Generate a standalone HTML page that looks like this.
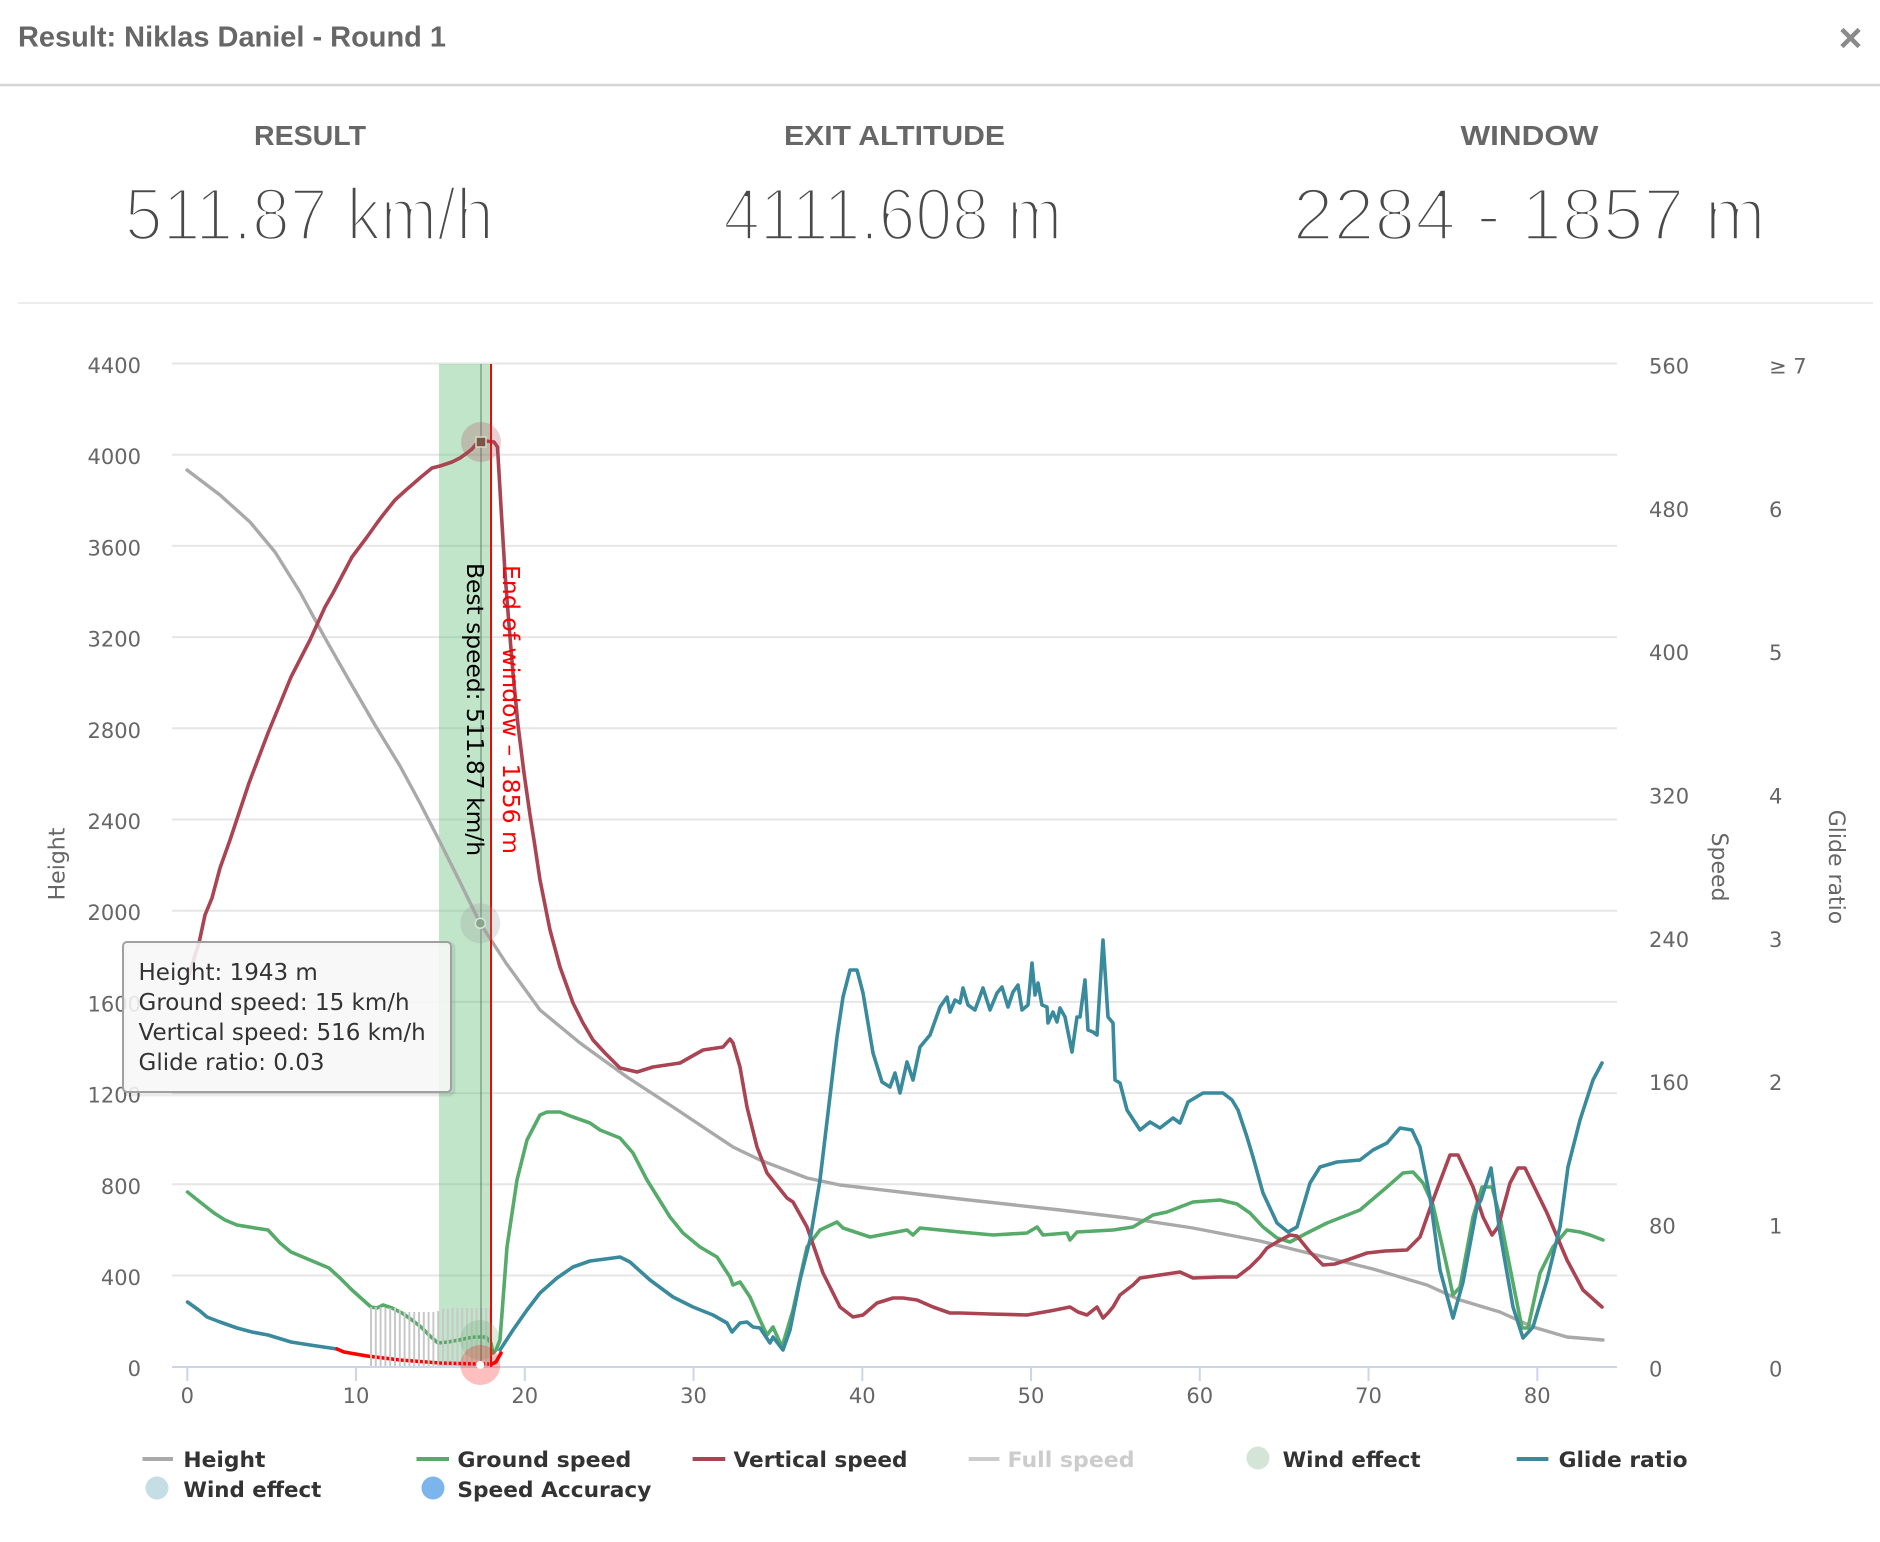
<!DOCTYPE html>
<html><head><meta charset="utf-8"><style>
html,body{margin:0;padding:0;background:#fff;}
svg{display:block;}
</style></head><body>
<svg width="1880" height="1542" viewBox="0 0 1880 1542" xmlns="http://www.w3.org/2000/svg">
<rect width="1880" height="1542" fill="#fff"/>
<!-- header -->
<text x="18" y="46.5" font-family="Liberation Sans, Arial, sans-serif" font-weight="bold" font-size="29" fill="#676767" textLength="428" lengthAdjust="spacingAndGlyphs">Result: Niklas Daniel - Round 1</text>
<g stroke="#8a8a8a" stroke-width="4.5" stroke-linecap="square"><line x1="1843.5" y1="31" x2="1857.5" y2="45"/><line x1="1857.5" y1="31" x2="1843.5" y2="45"/></g>
<line x1="0" y1="85" x2="1880" y2="85" stroke="#d6d6d6" stroke-width="2.5"/>
<g font-family="Liberation Sans, Arial, sans-serif" font-weight="bold" font-size="28" fill="#676767" text-anchor="middle">
<text x="310" y="145" textLength="112" lengthAdjust="spacingAndGlyphs">RESULT</text>
<text x="894.5" y="145" textLength="221" lengthAdjust="spacingAndGlyphs">EXIT ALTITUDE</text>
<text x="1529.5" y="145" textLength="138" lengthAdjust="spacingAndGlyphs">WINDOW</text>
</g>
<g font-family="Liberation Sans, Arial, sans-serif" font-size="74" fill="#4a4a4a" stroke="#fff" stroke-width="3.5" text-anchor="middle">
<text x="309.3" y="240" textLength="369" lengthAdjust="spacingAndGlyphs">511.87 km/h</text>
<text x="892.7" y="240" textLength="339" lengthAdjust="spacingAndGlyphs">4111.608 m</text>
<text x="1529.3" y="240" textLength="473" lengthAdjust="spacingAndGlyphs">2284 - 1857 m</text>
</g>
<line x1="18" y1="303" x2="1873" y2="303" stroke="#ececec" stroke-width="2"/>

<!-- gridlines -->
<g stroke="#e6e6e6" stroke-width="2">
<line x1="172" x2="1617" y1="1275.5" y2="1275.5"/>
<line x1="172" x2="1617" y1="1184.3" y2="1184.3"/>
<line x1="172" x2="1617" y1="1093.1" y2="1093.1"/>
<line x1="172" x2="1617" y1="1001.9" y2="1001.9"/>
<line x1="172" x2="1617" y1="910.7" y2="910.7"/>
<line x1="172" x2="1617" y1="819.5" y2="819.5"/>
<line x1="172" x2="1617" y1="728.3" y2="728.3"/>
<line x1="172" x2="1617" y1="637.1" y2="637.1"/>
<line x1="172" x2="1617" y1="545.9" y2="545.9"/>
<line x1="172" x2="1617" y1="454.7" y2="454.7"/>
<line x1="172" x2="1617" y1="363.5" y2="363.5"/>
</g>
<!-- band -->
<rect x="439" y="364" width="52" height="1003" fill="rgb(100,190,120)" fill-opacity="0.4"/>
<!-- x axis -->
<line x1="172" x2="1617" y1="1367" y2="1367" stroke="#ccd6eb" stroke-width="2"/>
<g stroke="#ccd6eb" stroke-width="2">
<line x1="187.3" x2="187.3" y1="1367" y2="1381"/><line x1="356" x2="356" y1="1367" y2="1381"/><line x1="524.8" x2="524.8" y1="1367" y2="1381"/><line x1="693.5" x2="693.5" y1="1367" y2="1381"/><line x1="862.3" x2="862.3" y1="1367" y2="1381"/><line x1="1031" x2="1031" y1="1367" y2="1381"/><line x1="1199.8" x2="1199.8" y1="1367" y2="1381"/><line x1="1368.5" x2="1368.5" y1="1367" y2="1381"/><line x1="1537.3" x2="1537.3" y1="1367" y2="1381"/>
</g>
<g font-family="DejaVu Sans, Verdana, sans-serif" font-size="21" fill="#666">
<g text-anchor="middle">
<text x="187.3" y="1403">0</text><text x="356" y="1403">10</text><text x="524.8" y="1403">20</text><text x="693.5" y="1403">30</text><text x="862.3" y="1403">40</text><text x="1031" y="1403">50</text><text x="1199.8" y="1403">60</text><text x="1368.5" y="1403">70</text><text x="1537.3" y="1403">80</text>
</g>
<g text-anchor="end">
<text x="141" y="1376">0</text><text x="141" y="1285">400</text><text x="141" y="1194">800</text><text x="141" y="1102.6">1200</text><text x="141" y="1011.4">1600</text><text x="141" y="920.2">2000</text><text x="141" y="829">2400</text><text x="141" y="737.8">2800</text><text x="141" y="646.6">3200</text><text x="141" y="555.4">3600</text><text x="141" y="464.2">4000</text><text x="141" y="373">4400</text>
</g>
<g>
<text x="1649" y="1376.7">0</text><text x="1649" y="1233.4">80</text><text x="1649" y="1090.1">160</text><text x="1649" y="946.8">240</text><text x="1649" y="803.5">320</text><text x="1649" y="660.2">400</text><text x="1649" y="516.8">480</text><text x="1649" y="373.5">560</text>
<text x="1769" y="1376.7">0</text><text x="1769" y="1233.4">1</text><text x="1769" y="1090.1">2</text><text x="1769" y="946.8">3</text><text x="1769" y="803.5">4</text><text x="1769" y="660.2">5</text><text x="1769" y="516.8">6</text><text x="1769" y="373.5">≥ 7</text>
</g>
<text transform="translate(64.5,864) rotate(-90)" text-anchor="middle" font-size="22">Height</text>
<text transform="translate(1712,867) rotate(90)" text-anchor="middle" font-size="22">Speed</text>
<text transform="translate(1829,867) rotate(90)" text-anchor="middle" font-size="22">Glide ratio</text>
</g>

<!-- series -->
<g fill="none" stroke-linejoin="round" stroke-linecap="round">
<polyline stroke="#a9a9a9" stroke-width="3.4" points="187,470 220,495 250,522 275,552 300,592 325,638 350,682 375,725 400,766 420,803 440,842 460,882 480,923 506,963 540,1010 580,1043 627,1077 673,1107 733,1147 760,1160 807,1178 840,1185 900,1192 960,1199 1060,1210 1127,1218 1193,1228 1260,1241 1300,1251 1373,1269 1427,1285 1460,1300 1500,1312 1533,1327 1567,1337 1603,1340"/>
<polyline stroke="#57ab6a" stroke-width="3.6" points="187.5,1192 200,1202 214,1213 225,1220 237,1225 255,1228 268,1230 280,1243 291,1252 310,1260 329,1268 340,1278 352,1290 362,1299 371,1307 377,1308 383,1305 392,1308 402,1313 412,1320 421,1327 430,1336 438,1343 448,1342 459,1340 468,1338 475,1337 486,1337 491,1343 493,1353 496,1350 500,1340 507,1247 517,1180 527,1140 540,1115 547,1112 560,1112 573,1117 590,1123 600,1130 620,1138 633,1153 647,1180 670,1217 683,1233 700,1247 717,1257 730,1277 733,1285 740,1282 750,1297 760,1320 767,1335 773,1327 782,1347 793,1310 807,1247 820,1230 837,1222 843,1228 870,1237 907,1230 913,1235 920,1228 960,1232 993,1235 1027,1233 1037,1227 1043,1235 1067,1233 1070,1240 1077,1232 1113,1230 1133,1227 1153,1215 1167,1212 1193,1202 1220,1200 1237,1204 1250,1213 1263,1227 1277,1238 1290,1242 1307,1233 1327,1223 1360,1210 1387,1187 1403,1173 1413,1172 1423,1183 1433,1205 1447,1267 1453,1295 1460,1287 1473,1217 1482,1187 1492,1187 1500,1217 1513,1283 1522,1328 1528,1328 1540,1273 1553,1247 1567,1230 1580,1232 1590,1235 1603,1240"/>
<polyline stroke="#aa4452" stroke-width="3.6" points="187.5,980 195,955 199,943 205,915 212,898 220,868 230,840 249,783 268,733 291,677 310,640 325,607 333,593 352,557 367,537 377,523 383,515 395,500 406,490 413,484 421,477 432,468 440,466 452,462 460,458 467,453 472,449 477,443 486,441 494,442 497.5,447 501,507 505,573 509,625 513,673 518,725 524,773 530,815 534,840 540,880 550,930 560,967 573,1003 583,1023 593,1040 605,1053 620,1068 637,1072 653,1067 680,1063 703,1050 723,1047 730,1039 733,1043 740,1067 747,1107 757,1147 767,1173 787,1198 793,1202 807,1227 823,1273 840,1307 853,1317 863,1315 877,1303 893,1298 903,1298 917,1300 933,1307 950,1313 960,1313 990,1314 1027,1315 1050,1311 1065,1308 1070,1307 1078,1312 1087,1315 1097,1307 1103,1318 1108,1313 1113,1307 1120,1295 1133,1285 1140,1278 1160,1275 1180,1272 1193,1278 1220,1277 1237,1277 1250,1267 1260,1257 1267,1248 1277,1242 1290,1235 1297,1236 1310,1252 1323,1265 1335,1264 1350,1259 1367,1253 1385,1251 1407,1250 1420,1237 1433,1200 1450,1155 1458,1155 1473,1187 1483,1217 1492,1235 1498,1227 1510,1183 1518,1168 1525,1168 1547,1213 1567,1260 1583,1290 1602,1307"/>
<polyline stroke="#3a8a9d" stroke-width="3.6" points="187.5,1302 200,1311 207,1317 220,1322 237,1328 252,1332 268,1335 291,1342 310,1345 337,1349"/>
<polyline stroke="#ff0000" stroke-width="3.6" points="337,1349 344,1352 367,1356 400,1360 440,1363 480,1364 492,1364 496,1362 501,1353"/>
<polyline stroke="#3a8a9d" stroke-width="3.6" points="500,1350 513,1330 527,1310 540,1293 557,1278 573,1267 590,1261 613,1258 620,1257 630,1262 650,1280 673,1297 693,1307 713,1315 727,1323 732,1332 740,1323 747,1322 753,1327 760,1328 770,1343 773,1337 783,1350 790,1330 800,1280 810,1240 820,1180 828,1113 837,1037 843,997 850,970 857,970 863,993 868,1023 873,1053 882,1082 890,1087 895,1073 900,1093 907,1062 913,1080 920,1047 930,1035 940,1007 947,997 950,1012 955,1000 960,1003 963,988 968,1005 975,1010 983,988 990,1010 997,993 1002,987 1008,1007 1013,992 1018,985 1022,1010 1028,1005 1032,963 1035,995 1038,983 1042,1005 1047,1007 1048,1023 1053,1012 1057,1022 1060,1008 1065,1017 1072,1052 1077,1017 1080,1017 1085,980 1088,1030 1093,1032 1097,1035 1103,940 1108,1017 1113,1023 1115,1080 1120,1083 1127,1110 1140,1130 1150,1122 1160,1128 1173,1118 1180,1123 1188,1102 1203,1093 1223,1093 1232,1100 1238,1110 1247,1137 1253,1157 1263,1193 1277,1223 1288,1232 1297,1227 1310,1183 1320,1167 1337,1162 1360,1160 1373,1150 1387,1143 1400,1128 1412,1130 1420,1147 1430,1197 1440,1270 1453,1318 1463,1282 1477,1207 1481,1200 1491,1168 1500,1233 1513,1307 1523,1338 1533,1327 1547,1280 1560,1227 1568,1167 1580,1120 1593,1080 1602,1063"/>
</g>
<!-- accuracy bars -->
<path stroke="#c8c8c8" stroke-width="2" fill="none" d="M371 1307V1366M375.8 1307V1366M380.6 1307V1366M385.4 1308V1366M390.2 1308V1366M395 1308V1366M399.8 1310V1366M404.6 1312V1366M409.4 1312V1366M414.2 1312V1366M419 1312V1366M423.8 1312V1366M428.6 1312V1366M433.4 1312V1366M438.2 1311V1366M443 1309V1366M447.8 1309V1366M452.6 1308V1366M457.4 1308V1366M462.2 1308V1366M467 1308V1366M471.8 1308V1366M476.6 1308V1366M481.4 1308V1366M486.2 1308V1366M490 1308V1366"/>
<!-- plot lines -->
<line x1="481" x2="481" y1="364" y2="1367" stroke="rgba(90,110,95,0.45)" stroke-width="2"/>
<line x1="491" x2="491" y1="364" y2="1367" stroke="#ff0000" stroke-width="2"/>
<g font-family="DejaVu Sans, Verdana, sans-serif" font-size="23">
<text transform="translate(467,563) rotate(90)" fill="#000" textLength="293" lengthAdjust="spacingAndGlyphs">Best speed: 511.87 km/h</text>
<text transform="translate(503,565) rotate(90)" fill="#ff0000" textLength="289" lengthAdjust="spacingAndGlyphs">End of window – 1856 m</text>
</g>
<!-- markers -->
<circle cx="481" cy="442" r="20" fill="rgba(170,68,85,0.25)"/>
<rect x="476" y="437" width="10" height="10" fill="#7d5546" stroke="#d0dcc8" stroke-width="1.5"/>
<circle cx="480.3" cy="923.3" r="20" fill="rgba(150,150,150,0.25)"/>
<circle cx="480.3" cy="923.3" r="5" fill="#86a58b" stroke="#d8e6da" stroke-width="1.5"/>
<circle cx="480" cy="1340" r="20" fill="rgba(85,170,102,0.22)"/>
<circle cx="480.3" cy="1365" r="20" fill="rgba(255,0,0,0.25)"/>
<circle cx="480.3" cy="1365" r="4" fill="#fff"/>
<!-- tooltip -->
<rect x="125" y="944" width="328" height="150" rx="4" fill="none" stroke="rgba(0,0,0,0.08)" stroke-width="5"/>
<rect x="123" y="942" width="328" height="150" rx="4" fill="rgba(247,247,247,0.88)" stroke="#a0a0a0" stroke-width="2"/>
<g font-family="DejaVu Sans, Verdana, sans-serif" font-size="23" fill="#333">
<text x="138.5" y="980">Height: 1943 m</text>
<text x="138.5" y="1010">Ground speed: 15 km/h</text>
<text x="138.5" y="1040">Vertical speed: 516 km/h</text>
<text x="138.5" y="1070">Glide ratio: 0.03</text>
</g>
<!-- legend -->
<g stroke-width="4">
<line x1="142.5" x2="173" y1="1459" y2="1459" stroke="#a9a9a9"/>
<line x1="416.5" x2="449" y1="1459" y2="1459" stroke="#57ab6a"/>
<line x1="692.6" x2="725.3" y1="1459" y2="1459" stroke="#aa4452"/>
<line x1="968.7" x2="999.4" y1="1459" y2="1459" stroke="#cccccc"/>
<line x1="1516.7" x2="1548.4" y1="1459" y2="1459" stroke="#3a8a9d"/>
</g>
<circle cx="1258" cy="1458" r="11.5" fill="#d4e4d6"/>
<circle cx="157" cy="1488" r="11.5" fill="#c5dde5"/>
<circle cx="433" cy="1488" r="11.5" fill="#7cb5ec"/>
<g font-family="DejaVu Sans, Verdana, sans-serif" font-weight="bold" font-size="21" fill="#333">
<text x="183.4" y="1467" textLength="82" lengthAdjust="spacingAndGlyphs">Height</text>
<text x="457.4" y="1467" textLength="174" lengthAdjust="spacingAndGlyphs">Ground speed</text>
<text x="733.5" y="1467" textLength="174" lengthAdjust="spacingAndGlyphs">Vertical speed</text>
<text x="1007.5" y="1467" fill="#cccccc" textLength="127" lengthAdjust="spacingAndGlyphs">Full speed</text>
<text x="1282.6" y="1467" textLength="138" lengthAdjust="spacingAndGlyphs">Wind effect</text>
<text x="1558.6" y="1467" textLength="129" lengthAdjust="spacingAndGlyphs">Glide ratio</text>
<text x="183.4" y="1497" textLength="138" lengthAdjust="spacingAndGlyphs">Wind effect</text>
<text x="457.4" y="1497" textLength="194" lengthAdjust="spacingAndGlyphs">Speed Accuracy</text>
</g>
</svg>
</body></html>
